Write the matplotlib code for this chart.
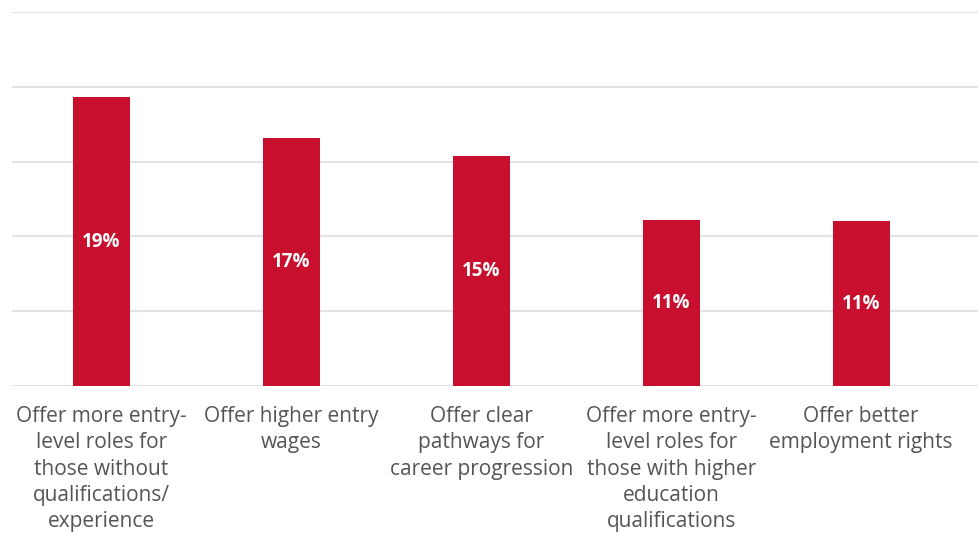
import matplotlib.pyplot as plt

# bar heights (percent of respondents)
categories = [
    "Offer more entry-\nlevel roles for\nthose without\nqualifications/\nexperience",
    "Offer higher entry\nwages",
    "Offer clear\npathways for\ncareer progression",
    "Offer more entry-\nlevel roles for\nthose with higher\neducation\nqualifications",
    "Offer better\nemployment rights",
]
values = [19.3, 16.6, 15.4, 11.1, 11.0]
yticks = [0, 5, 10, 15, 20, 25]

plt.rcParams['font.family'] = ['Open Sans', 'DejaVu Sans']

fig = plt.figure(figsize=(9.79, 5.33), dpi=100)
ax = fig.add_axes([12/979, (533-386)/533, 1 - 12/979, 374/533])

x = list(range(len(values)))
bars = ax.bar(x, values, width=0.3, color='#c8102e', zorder=3)

# percentage labels in the middle of each bar
for xi, v in zip(x, values):
    ax.text(xi, v / 2, "%d%%" % round(v), ha='center', va='center',
            color='white', fontsize=13.5, fontweight='bold', zorder=4)

ax.set_ylim(0, 25)
ax.set_xlim(-0.47, 4.62)
ax.set_yticks(yticks)
ax.yaxis.grid(True, color='#e3e3e3', linewidth=1.5, zorder=0)
ax.tick_params(axis='y', left=False, labelleft=False)
ax.tick_params(axis='x', bottom=False, pad=11)
ax.set_xticks(x)
ax.set_xticklabels(categories, fontsize=15, color='#555555', linespacing=1.33, va='top')
for s in ax.spines.values():
    s.set_visible(False)

plt.savefig('out.png', dpi=100)
